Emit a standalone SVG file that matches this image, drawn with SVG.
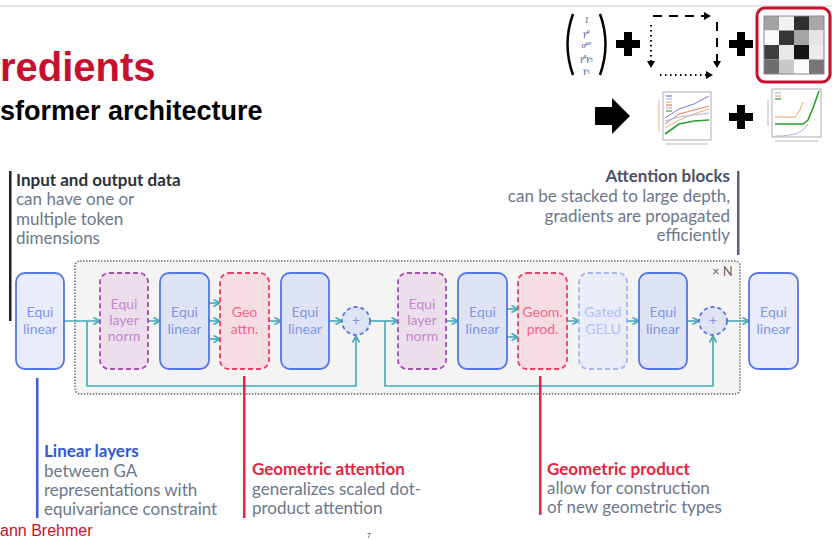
<svg xmlns="http://www.w3.org/2000/svg" width="832" height="540" viewBox="0 0 832 540">
  <defs>
    <marker id="arr" markerUnits="userSpaceOnUse" markerWidth="10" markerHeight="10" refX="7" refY="4" orient="auto">
      <path d="M0.5,0.5 L7,4 L0.5,7.5" fill="none" stroke="#45a8b5" stroke-width="1.6" stroke-linejoin="round"/>
    </marker>
    <marker id="blk" markerUnits="userSpaceOnUse" markerWidth="10" markerHeight="10" refX="5" refY="4" orient="auto">
      <path d="M0,0 L7,4 L0,8 Z" fill="#000"/>
    </marker>
  </defs>
  <style>
    .title { font-family: "Liberation Sans", Arial, sans-serif; font-weight: bold; }
    .lbl { font-family: Lato, "Noto Sans", sans-serif; font-size: 17px; fill: #6b778c; }
    .hd { font-family: Lato, "Noto Sans", sans-serif; font-size: 17px; font-weight: bold; }
    .node rect, .node circle { stroke-width: 1.8; }
    .ntxt { font-family: Lato, "Noto Sans", sans-serif; font-size: 14px; text-anchor: middle; }
    .lin rect { fill: #dfe4f4; stroke: #5577e6; }
    .io rect { fill: #e8ecfb; stroke: #5577e6; }
    .lin text, .io text, .add text { fill: #7f95e6; }
    .norm rect { fill: #ecdfeb; stroke: #a94cb8; stroke-dasharray: 5 3; }
    .norm text { fill: #c387cf; }
    .geo rect { fill: #f6dce3; stroke: #ee3d66; stroke-dasharray: 5 3; }
    .geo text { fill: #f06489; }
    .gelu rect { fill: #e9edf8; stroke: #a3b6f5; stroke-dasharray: 5 3; }
    .gelu text { fill: #b0c0f5; }
    .add circle { fill: #dfe4f4; stroke: #5577e6; stroke-dasharray: 4 3; }
    .conn path { fill: none; stroke: #45a8b5; stroke-width: 1.6; marker-end: url(#arr); }
    .gam { font-family: "Liberation Serif", serif; font-style: italic; font-size: 8.5px; fill: #33427a; text-anchor: middle; }
  </style>

  <!-- page frame -->
  <rect width="832" height="540" fill="#ffffff"/>
  <line x1="0" y1="6" x2="832" y2="6" stroke="#e6e6e6" stroke-width="2"/>

  <!-- heading -->
  <text class="title" x="0" y="81" font-size="40" fill="#c8102e">redients</text>
  <text class="title" x="0" y="120" font-size="27" fill="#000">sformer architecture</text>

  <!-- footer -->
  <text x="0" y="536" font-family="Liberation Sans, Arial, sans-serif" font-size="16" fill="#c8102e">ann Brehmer</text>
  <text x="367" y="538" font-family="Liberation Sans, Arial, sans-serif" font-size="7" fill="#333">7</text>

  <!-- summary thumbnails -->
  <g id="thumbnails">
    <!-- gamma basis column -->
    <path d="M573,14 Q562,44 573,75" fill="none" stroke="#000" stroke-width="2.5"/>
    <path d="M600,14 Q611,44 600,75" fill="none" stroke="#000" stroke-width="2.5"/>
    <text class="gam" x="586.5" y="23">1</text>
    <text class="gam" x="586.5" y="36">γ<tspan font-size="6" dy="-3">μ</tspan></text>
    <text class="gam" x="586.5" y="48">σ<tspan font-size="6" dy="-3">μν</tspan></text>
    <text class="gam" x="586.5" y="61">γ<tspan font-size="6" dy="-3">μ</tspan><tspan dy="3">γ</tspan><tspan font-size="6" dy="1">5</tspan></text>
    <text class="gam" x="586.5" y="73">γ<tspan font-size="6" dy="1">5</tspan></text>
    <!-- plus -->
    <rect x="616" y="40" width="24" height="8" fill="#000"/>
    <rect x="624" y="32" width="8" height="24" fill="#000"/>
    <!-- dashed/dotted loop -->
    <path d="M653,16 H709" fill="none" stroke="#000" stroke-width="2" stroke-dasharray="9 7" marker-end="url(#blk)"/>
    <path d="M717,22 V66" fill="none" stroke="#000" stroke-width="2" stroke-dasharray="9 7" marker-end="url(#blk)"/>
    <path d="M651,25 V66" fill="none" stroke="#000" stroke-width="2" stroke-dasharray="1.5 3.5" marker-end="url(#blk)"/>
    <path d="M660,75 H711" fill="none" stroke="#000" stroke-width="2" stroke-dasharray="1.5 3.5" marker-end="url(#blk)"/>
    <!-- plus -->
    <rect x="729" y="40" width="24" height="8" fill="#000"/>
    <rect x="737" y="32" width="8" height="24" fill="#000"/>
    <!-- attention matrix -->
    <rect x="757" y="8" width="73" height="74" rx="8" fill="#fff" stroke="#c8102e" stroke-width="3"/>
    <g transform="translate(764,16)">
      <rect x="0" y="0" width="15" height="14.5" fill="#a2a2a2"/>
      <rect x="15" y="0" width="15" height="14.5" fill="#f2f2f2"/>
      <rect x="30" y="0" width="15" height="14.5" fill="#2e2e2e"/>
      <rect x="45" y="0" width="15" height="14.5" fill="#a8a8a8"/>
      <rect x="0" y="14.5" width="15" height="14.5" fill="#fafafa"/>
      <rect x="15" y="14.5" width="15" height="14.5" fill="#363636"/>
      <rect x="30" y="14.5" width="15" height="14.5" fill="#a6a6a6"/>
      <rect x="45" y="14.5" width="15" height="14.5" fill="#e4e4e4"/>
      <rect x="0" y="29" width="15" height="14.5" fill="#3e3e3e"/>
      <rect x="15" y="29" width="15" height="14.5" fill="#e8e8e8"/>
      <rect x="30" y="29" width="15" height="14.5" fill="#161616"/>
      <rect x="45" y="29" width="15" height="14.5" fill="#ececec"/>
      <rect x="0" y="43.5" width="15" height="14.5" fill="#6e6e6e"/>
      <rect x="15" y="43.5" width="15" height="14.5" fill="#c8c8c8"/>
      <rect x="30" y="43.5" width="15" height="14.5" fill="#fbfbfb"/>
      <rect x="45" y="43.5" width="15" height="14.5" fill="#767676"/>
      <rect x="0" y="0" width="60" height="58" fill="none" stroke="#888" stroke-width="1"/>
    </g>
    <!-- result arrow -->
    <polygon points="595,107 612,107 612,98 630,116 612,134 612,125 595,125" fill="#000"/>
    <!-- plot 1 -->
    <rect x="663" y="92" width="48" height="48" fill="#fff" stroke="#999" stroke-width="0.8"/>
    <polyline points="665,118 679,109 694,104 709,96" fill="none" stroke="#7a7ad8" stroke-width="1"/>
    <polyline points="665,124 679,114 694,110 709,106" fill="none" stroke="#e87a6a" stroke-width="1"/>
    <polyline points="665,128 679,120 694,114 709,109" fill="none" stroke="#f0b060" stroke-width="1"/>
    <polyline points="665,121 679,117 694,115 709,113" fill="none" stroke="#b0b0e8" stroke-width="1"/>
    <polyline points="665,134 679,124 694,121 709,120" fill="none" stroke="#2aa02a" stroke-width="1.6"/>
    <g stroke-width="1.2">
      <line x1="666" y1="96" x2="672" y2="96" stroke="#7a7ad8"/>
      <line x1="666" y1="99" x2="672" y2="99" stroke="#b0b0e8"/>
      <line x1="666" y1="102" x2="672" y2="102" stroke="#f0b060"/>
      <line x1="666" y1="105" x2="672" y2="105" stroke="#e87a6a"/>
      <line x1="666" y1="108" x2="672" y2="108" stroke="#f0a0a0"/>
      <line x1="666" y1="111" x2="672" y2="111" stroke="#2aa02a"/>
    </g>
    <line x1="659" y1="100" x2="659" y2="132" stroke="#e8b090" stroke-width="1"/>
    <line x1="666" y1="144" x2="708" y2="144" stroke="#bbb" stroke-width="1"/>
    <!-- plus -->
    <rect x="729" y="113" width="24" height="8" fill="#000"/>
    <rect x="737" y="105" width="8" height="24" fill="#000"/>
    <!-- plot 2 -->
    <rect x="772" y="89" width="49" height="48" fill="#fff" stroke="#999" stroke-width="0.8"/>
    <polyline points="775,117 782,117 789,117 795,117 800,110 803,102" fill="none" stroke="#f0a060" stroke-width="1"/>
    <polyline points="775,124 782,124 789,124 796,124 803,124 808,120 813,108 819,91" fill="none" stroke="#2aa02a" stroke-width="1.6"/>
    <polyline points="775,136 782,136 789,135 796,134 803,130 808,124" fill="none" stroke="#b0b0e8" stroke-width="1"/>
    <g stroke-width="1.2">
      <line x1="775" y1="93" x2="781" y2="93" stroke="#b0b0e8"/>
      <line x1="775" y1="96" x2="781" y2="96" stroke="#f0a060"/>
      <line x1="775" y1="99" x2="781" y2="99" stroke="#2aa02a"/>
    </g>
    <line x1="768" y1="100" x2="768" y2="126" stroke="#bbb" stroke-width="1"/>
    <line x1="775" y1="141" x2="818" y2="141" stroke="#bbb" stroke-width="1"/>
  </g>

  <!-- repeated block frame -->
  <g id="block">
    <rect x="75" y="261" width="665" height="133" rx="5" fill="#f4f4f4" stroke="#6a6a6a" stroke-width="1.5" stroke-dasharray="1.5 1.5"/>
    <text x="712" y="276" font-family="Lato, 'Noto Sans', sans-serif" font-size="13" fill="#666">× N</text>
  </g>

  <!-- connectors -->
  <g id="connectors" class="conn">
    <path d="M64,321 H100"/>
    <path d="M87,321 V386 H356 V336"/>
    <path d="M148,321 H160"/>
    <path d="M209,303 H220"/>
    <path d="M209,321 H220"/>
    <path d="M209,339 H220"/>
    <path d="M269,321 H281"/>
    <path d="M329,321 H342"/>
    <path d="M370,321 H398"/>
    <path d="M385,321 V386 H713 V336"/>
    <path d="M446,321 H458"/>
    <path d="M507,309 H518"/>
    <path d="M507,337 H518"/>
    <path d="M567,321 H579"/>
    <path d="M627,321 H639"/>
    <path d="M687,321 H699"/>
    <path d="M727,321 H749"/>
  </g>

  <!-- nodes -->
  <g id="in-linear" class="node io">
    <rect x="16" y="273" width="48" height="96" rx="9"/>
    <text class="ntxt" x="40" y="317">Equi</text>
    <text class="ntxt" x="40" y="334">linear</text>
  </g>
  <g id="norm-1" class="node norm">
    <rect x="100" y="273" width="48" height="96" rx="9"/>
    <text class="ntxt" x="124" y="309">Equi</text>
    <text class="ntxt" x="124" y="325">layer</text>
    <text class="ntxt" x="124" y="341">norm</text>
  </g>
  <g id="linear-1" class="node lin">
    <rect x="160" y="273" width="49" height="96" rx="9"/>
    <text class="ntxt" x="184.5" y="317">Equi</text>
    <text class="ntxt" x="184.5" y="334">linear</text>
  </g>
  <g id="geo-attn" class="node geo">
    <rect x="220" y="273" width="49" height="96" rx="9"/>
    <text class="ntxt" x="244.5" y="317">Geo</text>
    <text class="ntxt" x="244.5" y="334">attn.</text>
  </g>
  <g id="linear-2" class="node lin">
    <rect x="281" y="273" width="48" height="96" rx="9"/>
    <text class="ntxt" x="305" y="317">Equi</text>
    <text class="ntxt" x="305" y="334">linear</text>
  </g>
  <g id="add-1" class="node add">
    <circle cx="356" cy="321" r="14"/>
    <text class="ntxt" x="356" y="325" font-size="10">+</text>
  </g>
  <g id="norm-2" class="node norm">
    <rect x="398" y="273" width="48" height="96" rx="9"/>
    <text class="ntxt" x="422" y="309">Equi</text>
    <text class="ntxt" x="422" y="325">layer</text>
    <text class="ntxt" x="422" y="341">norm</text>
  </g>
  <g id="linear-3" class="node lin">
    <rect x="458" y="273" width="49" height="96" rx="9"/>
    <text class="ntxt" x="482.5" y="317">Equi</text>
    <text class="ntxt" x="482.5" y="334">linear</text>
  </g>
  <g id="geo-prod" class="node geo">
    <rect x="518" y="273" width="49" height="96" rx="9"/>
    <text class="ntxt" x="542.5" y="317">Geom.</text>
    <text class="ntxt" x="542.5" y="334">prod.</text>
  </g>
  <g id="gated-gelu" class="node gelu">
    <rect x="579" y="273" width="48" height="96" rx="9"/>
    <text class="ntxt" x="603" y="317">Gated</text>
    <text class="ntxt" x="603" y="334">GELU</text>
  </g>
  <g id="linear-4" class="node lin">
    <rect x="639" y="273" width="48" height="96" rx="9"/>
    <text class="ntxt" x="663" y="317">Equi</text>
    <text class="ntxt" x="663" y="334">linear</text>
  </g>
  <g id="add-2" class="node add">
    <circle cx="713" cy="321" r="14"/>
    <text class="ntxt" x="713" y="325" font-size="10">+</text>
  </g>
  <g id="out-linear" class="node io">
    <rect x="749" y="273" width="49" height="96" rx="9"/>
    <text class="ntxt" x="773.5" y="317">Equi</text>
    <text class="ntxt" x="773.5" y="334">linear</text>
  </g>

  <!-- annotations -->
  <g id="note-io">
    <rect x="9" y="171" width="2.5" height="150" fill="#222"/>
    <text class="hd" x="16" y="186" fill="#2b2f3a">Input and output data</text>
    <text class="lbl" x="16" y="205">can have one or</text>
    <text class="lbl" x="16" y="225">multiple token</text>
    <text class="lbl" x="16" y="244">dimensions</text>
  </g>
  <g id="note-blocks" text-anchor="end">
    <rect x="737" y="171" width="2.5" height="84" fill="#5a6478"/>
    <text class="hd" x="730" y="182" fill="#4a5068">Attention blocks</text>
    <text class="lbl" x="730" y="202">can be stacked to large depth,</text>
    <text class="lbl" x="730" y="222">gradients are propagated</text>
    <text class="lbl" x="730" y="241">efficiently</text>
  </g>
  <g id="note-linear">
    <rect x="36" y="378" width="2.5" height="140" fill="#3b5bdb"/>
    <text class="hd" x="44" y="457" fill="#3355dd">Linear layers</text>
    <text class="lbl" x="44" y="477">between GA</text>
    <text class="lbl" x="44" y="496">representations with</text>
    <text class="lbl" x="44" y="515">equivariance constraint</text>
  </g>
  <g id="note-attn">
    <rect x="243" y="376" width="2.5" height="142" fill="#e8233f"/>
    <text class="hd" x="252" y="475" fill="#e8233f">Geometric attention</text>
    <text class="lbl" x="252" y="495">generalizes scaled dot-</text>
    <text class="lbl" x="252" y="514">product attention</text>
  </g>
  <g id="note-prod">
    <rect x="539" y="376" width="2.5" height="139" fill="#e8233f"/>
    <text class="hd" x="547" y="475" fill="#e8233f">Geometric product</text>
    <text class="lbl" x="547" y="494">allow for construction</text>
    <text class="lbl" x="547" y="513">of new geometric types</text>
  </g>
</svg>
